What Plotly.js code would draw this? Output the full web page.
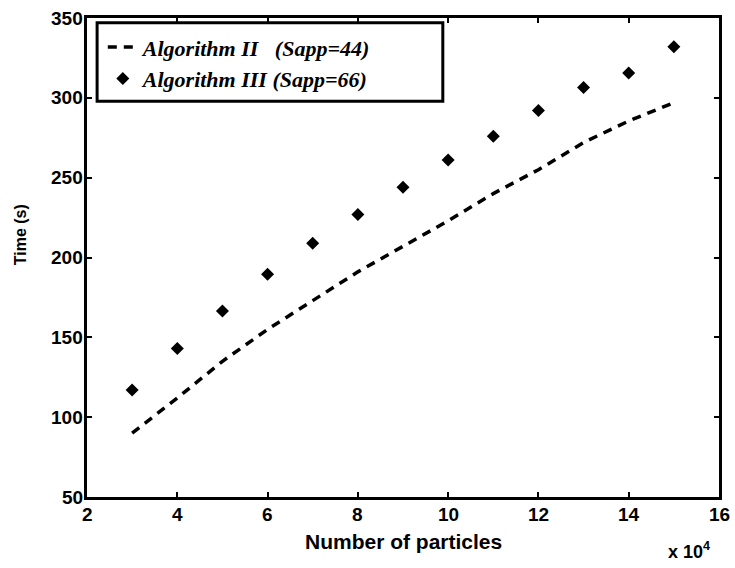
<!DOCTYPE html>
<html>
<head>
<meta charset="utf-8">
<script src="https://cdn.plot.ly/plotly-3.0.1.min.js"></script>
<style>html,body{margin:0;padding:0;background:#fff;}#chart{width:735px;height:568px;}</style>
</head>
<body>
<div id="chart"></div>
<script>
// Number of particles (in units of 10^4)
const particles = [3, 4, 5, 6, 7, 8, 9, 10, 11, 12, 13, 14, 15];
// Run time in seconds
const timeAlgII = [90, 112, 135, 155, 173, 191, 207, 223, 240, 255, 272, 285.5, 297];
const timeAlgIII = [117, 143, 166.5, 189.5, 209, 227, 244, 261, 276, 292, 306.5, 315.5, 332];
const xTicks = [2, 4, 6, 8, 10, 12, 14, 16];
const yTicks = [50, 100, 150, 200, 250, 300, 350];

const traces = [
  {
    x: particles, y: timeAlgII, mode: 'lines', type: 'scatter',
    name: '<b><i>Algorithm II   (Sapp=44)</i></b>',
    line: {color: '#000', width: 3.5, dash: '9px,7px'}
  },
  {
    x: particles, y: timeAlgIII, mode: 'markers', type: 'scatter',
    name: '<b><i>Algorithm III (Sapp=66)</i></b>',
    marker: {symbol: 'diamond', size: 10, color: '#000'}
  }
];

const sans = size => ({family: 'Liberation Sans, Arial, sans-serif', size: size, color: '#000'});
const axisCommon = {
  showgrid: false, zeroline: false,
  showline: true, linecolor: '#000', linewidth: 3, mirror: 'ticks',
  ticks: 'inside', ticklen: 5, tickwidth: 2, tickcolor: '#000',
  tickmode: 'array', showticklabels: false
};

// bold tick labels, placed on the axes' own scales
const xTickLabels = xTicks.map(v => ({
  text: '<b>' + v + '</b>', xref: 'x', x: v, yref: 'paper', y: 0,
  xanchor: 'center', yanchor: 'top', yshift: -5, showarrow: false, font: sans(19)
}));
const yTickLabels = yTicks.map(v => ({
  text: '<b>' + v + '</b>', xref: 'paper', x: 0, yref: 'y', y: v,
  xanchor: 'right', yanchor: 'middle', xshift: -2, showarrow: false, font: sans(19)
}));

const layout = {
  width: 735, height: 568,
  margin: {l: 87, r: 16, t: 18, b: 71},
  paper_bgcolor: '#fff', plot_bgcolor: '#fff',
  showlegend: true,
  legend: {
    x: 0.025, y: 0.983, xanchor: 'left', yanchor: 'top',
    borderwidth: 0, bgcolor: 'rgba(0,0,0,0)',
    font: {family: 'Liberation Serif, Times New Roman, serif', size: 22, color: '#000'},
    tracegroupgap: 0, itemwidth: 30
  },
  // legend frame
  shapes: [
    {type: 'rect', xref: 'paper', yref: 'paper', x0: 0.016, x1: 0.563, y0: 0.826, y1: 0.99,
     line: {color: '#000', width: 3}, fillcolor: 'rgba(0,0,0,0)', layer: 'below'}
  ],
  xaxis: Object.assign({}, axisCommon, {range: [2, 16], tickvals: xTicks}),
  yaxis: Object.assign({}, axisCommon, {range: [50, 350], tickvals: yTicks}),
  annotations: xTickLabels.concat(yTickLabels, [
    {text: '<b>Number of particles</b>', xref: 'paper', yref: 'paper', x: 0.5, y: -0.093,
     xanchor: 'center', yanchor: 'middle', showarrow: false, font: sans(21)},
    {text: '<b>Time (s)</b>', xref: 'paper', yref: 'paper', x: -0.104, y: 0.547, textangle: -90,
     xanchor: 'center', yanchor: 'middle', showarrow: false, font: sans(16)},
    {text: '<b>x 10<sup>4</sup></b>', xref: 'paper', yref: 'paper', x: 0.989, y: -0.112,
     xanchor: 'right', yanchor: 'middle', showarrow: false, font: sans(18)}
  ])
};

Plotly.newPlot('chart', traces, layout, {displayModeBar: false, staticPlot: true});
</script>
</body>
</html>
